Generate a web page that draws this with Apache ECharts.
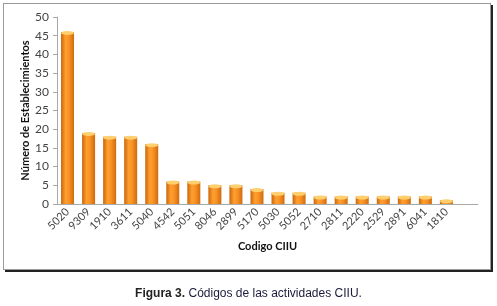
<!DOCTYPE html>
<html>
<head>
<meta charset="utf-8">
<script src="https://cdn.jsdelivr.net/npm/echarts@6/dist/echarts.min.js"></script>
<style>
  body { margin: 0; background: #fff; }
  #frame {
    position: absolute; left: 3px; top: 3px; width: 486px; height: 265px;
    border: 1px solid #9a9a9a; box-shadow: 2px 2px 0 #222;
  }
  #main { position: absolute; left: 0; top: 0; width: 497px; height: 306px; }
  #caption {
    position: absolute; left: 0; top: 286px; width: 497px; text-align: center;
    font-family: "Liberation Sans", Arial, sans-serif; font-size: 12px; color: #1a1a3a;
  }
</style>
</head>
<body>
<div id="frame"></div>
<div id="main"></div>
<div id="caption"><b style="color:#222">Figura 3.</b> Códigos de las actividades CIIU.</div>
<script>
  // datos
  var codigos = ['5020', '9309', '1910', '3611', '5040', '4542', '5051', '8046', '2899', '5170',
                 '5030', '5052', '2710', '2811', '2220', '2529', '2891', '6041', '1810', '']
  var establecimientos = [46, 19, 18, 18, 16, 6, 6, 5, 5, 4, 3, 3, 2, 2, 2, 2, 2, 2, 1, null]
  var yTicks = [0, 5, 10, 15, 20, 25, 30, 35, 40, 45, 50]

  var chart = echarts.init(document.getElementById('main'))
  var txtFont = 'Lato, "Open Sans", sans-serif'
  var option = {
    animation: false,
    grid: { left: 57, right: 19, top: 17, bottom: 102 },
    xAxis: {
      type: 'category',
      data: codigos,
      name: 'Codigo CIIU',
      nameLocation: 'middle',
      nameGap: 37,
      nameMoveOverlap: false,
      nameTextStyle: { color: '#111', fontWeight: 'bold', fontSize: 11, fontFamily: txtFont },
      axisTick: { show: false },
      axisLine: { lineStyle: { color: '#a8a8a8' } },
      axisLabel: {
        rotate: 45, interval: 0, color: '#444', fontSize: 11, fontFamily: txtFont, margin: 6
      }
    },
    yAxis: {
      type: 'value',
      min: yTicks[0],
      max: yTicks[yTicks.length - 1],
      interval: 5,
      name: 'Número de Establecimientos',
      nameLocation: 'middle',
      nameGap: 26,
      nameMoveOverlap: false,
      nameTextStyle: { color: '#111', fontWeight: 'bold', fontSize: 11, fontFamily: txtFont },
      splitLine: { show: false },
      axisLine: { show: true, lineStyle: { color: '#a8a8a8' } },
      axisTick: { show: true, length: 4, lineStyle: { color: '#a8a8a8' } },
      axisLabel: { color: '#444', fontSize: 12, fontFamily: txtFont, margin: 8 }
    },
    series: [{
      type: 'bar',
      data: establecimientos,
      barWidth: 13,
      itemStyle: {
        color: new echarts.graphic.LinearGradient(0, 0, 1, 0, [
          { offset: 0, color: '#c9660c' },
          { offset: 0.35, color: '#ff9f2e' },
          { offset: 0.6, color: '#f99327' },
          { offset: 1, color: '#d06b0e' }
        ])
      }
    }, {
      // tapa superior del cilindro
      type: 'pictorialBar',
      data: establecimientos,
      symbol: 'circle',
      symbolSize: [13, 4],
      symbolPosition: 'end',
      symbolOffset: [0, -1],
      z: 3,
      itemStyle: { color: '#ffcf6e' }
    }]
  }
  chart.setOption(option)
</script>
</body>
</html>
